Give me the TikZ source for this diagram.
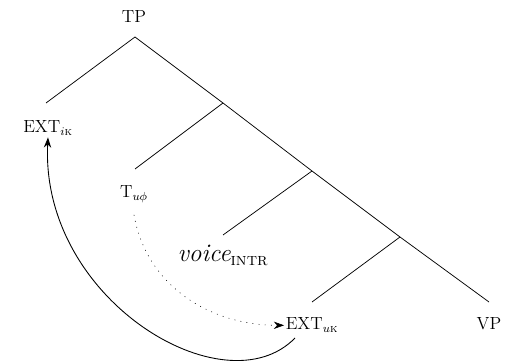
\documentclass[tikz,border=0pt]{standalone}
\usepackage{amsmath}
\usetikzlibrary{arrows.meta,positioning}

\begin{document}
\begin{tikzpicture}[x=0.024cm, y=-0.024cm,
    lbl/.style={inner sep=1pt, anchor=base, font=\large},
    branch/.style={line width=0.5pt},
    move/.style={-{Stealth[length=7pt,width=5pt]}, semithick}]
  \useasboundingbox (0,0) rectangle (511,362);

  % spine of the tree
  \coordinate (n0) at (135,37);
  \coordinate (n1) at (223,103);
  \coordinate (n2) at (312,171);
  \coordinate (n3) at (400,237);
  \coordinate (n4) at (489,302);
  % left daughters
  \coordinate (l0) at (46,103);
  \coordinate (l1) at (135,169);
  \coordinate (l2) at (223,235);
  \coordinate (l3) at (312,302);

  \draw[branch] (n0) -- (n1) -- (n2) -- (n3) -- (n4);
  \draw[branch] (n0) -- (l0);
  \draw[branch] (n1) -- (l1);
  \draw[branch] (n2) -- (l2);
  \draw[branch] (n3) -- (l3);

  % labels
  \node[lbl] (tp) at (134,23) {TP};
  \node[lbl] (extI) at (48,133) {EXT$_{i\textsc{k}}$};
  \node[lbl] (tuphi) at (134,198) {T$_{u\phi}$};
  \node[lbl, font=\LARGE] (voice) at (223,262) {$\textit{voice}_{\textsc{intr}}$};
  \node[lbl] (extU) at (312,330) {EXT$_{u\textsc{k}}$};
  \node[lbl] (vp) at (489,330) {VP};

  % movement arrows
  \coordinate (launch) at (295,338);
  \draw[move, thin, dash pattern=on 0.6pt off 3.6pt] (tuphi.south) ++(0,-7pt) to[out=-80, in=180] (extU.west);
  \draw[move] (launch) .. controls (225,410) and (40,300) .. (extI.south);
\end{tikzpicture}
\end{document}
